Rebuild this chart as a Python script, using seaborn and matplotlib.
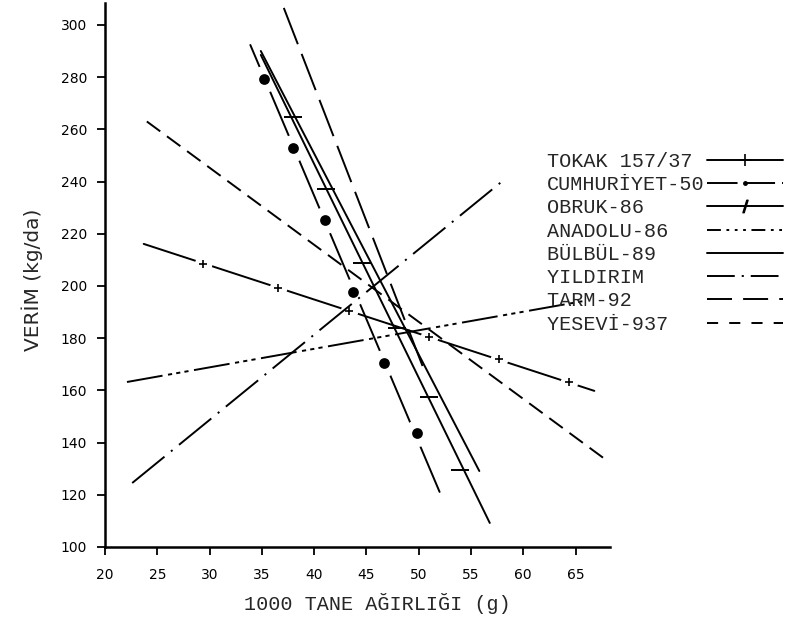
import matplotlib
matplotlib.use('Agg')
import matplotlib.pyplot as plt
from matplotlib.lines import Line2D
import seaborn as sns

# Veriler
cesitler = ['TOKAK 157/37', 'CUMHURİYET-50', 'OBRUK-86', 'ANADOLU-86',
            'BÜLBÜL-89', 'YILDIRIM', 'TARM-92', 'YESEVİ-937']

tokak_x = [23.7, 66.8]
tokak_y = [216.1, 159.8]
tokak_mx = [29.4, 36.5, 43.3, 51.0, 57.7, 64.4]
tokak_my = [208.4, 199.2, 190.5, 180.5, 172.0, 163.2]

cumhuriyet_x = [33.9, 52.0]
cumhuriyet_y = [292.3, 121.1]
cumhuriyet_mx = [35.2, 38.0, 41.0, 43.7, 46.7, 49.8]
cumhuriyet_my = [279.3, 252.9, 225.3, 197.7, 170.5, 143.7]

obruk_x = [34.9, 56.8]
obruk_y = [288.5, 109.2]
obruk_mx = [38.0, 41.1, 44.6, 47.9, 51.0, 54.0]
obruk_my = [264.8, 237.2, 208.8, 183.9, 157.5, 129.5]

anadolu_x = [22.1, 65.9]
anadolu_y = [163.2, 194.3]

bulbul_x = [34.9, 55.8]
bulbul_y = [290.0, 129.1]

yildirim_x = [22.6, 57.9]
yildirim_y = [124.5, 239.8]

tarm_x = [37.1, 50.5]
tarm_y = [306.5, 168.0]

yesevi_x = [24.0, 67.7]
yesevi_y = [263.0, 134.0]

x_ticks = [20, 25, 30, 35, 40, 45, 50, 55, 60, 65]
y_ticks = [100, 120, 140, 160, 180, 200, 220, 240, 260, 280, 300]

sns.set_style('ticks')
plt.rcParams['font.family'] = ['DejaVu Sans']
plt.rcParams['lines.scale_dashes'] = False

fig = plt.figure(figsize=(7.86, 6.17), dpi=100)
ax = fig.add_axes([0.1336, 0.1135, 0.6425, 0.8817])

lw = 1.4
ortak = dict(ax=ax, color='black', linewidth=lw, sort=False, estimator=None, legend=False)

# CUMHURIYET-50: iri noktali cizgi (en altta)
sns.lineplot(x=cumhuriyet_x, y=cumhuriyet_y, zorder=1.0, **ortak)
sns.scatterplot(x=cumhuriyet_mx, y=cumhuriyet_my, ax=ax, color='white', s=380,
                linewidth=0, zorder=1.1, legend=False)
sns.scatterplot(x=cumhuriyet_mx, y=cumhuriyet_my, ax=ax, color='black', s=60,
                linewidth=0, zorder=1.2, legend=False)

# TOKAK 157/37: arti isaretli cizgi
sns.lineplot(x=tokak_x, y=tokak_y, zorder=1.5, **ortak)
sns.scatterplot(x=tokak_mx, y=tokak_my, ax=ax, color='white', s=160,
                linewidth=0, zorder=1.6, legend=False)
sns.scatterplot(x=tokak_mx, y=tokak_my, ax=ax, color='black', marker='+', s=40,
                linewidth=1.2, zorder=1.7, legend=False)

# OBRUK-86
sns.lineplot(x=obruk_x, y=obruk_y, zorder=3, **ortak)
sns.scatterplot(x=obruk_mx, y=obruk_my, ax=ax, color='black', marker='_', s=160,
                linewidth=1.4, zorder=3, legend=False)

sns.lineplot(x=anadolu_x, y=anadolu_y, zorder=3,
             linestyle=(0, (26, 4, 3, 3, 3, 3, 3, 4)), **ortak)
sns.lineplot(x=bulbul_x, y=bulbul_y, zorder=3, **ortak)
sns.lineplot(x=yildirim_x, y=yildirim_y, zorder=3,
             linestyle=(0, (30, 6, 1.5, 6)), **ortak)
sns.lineplot(x=tarm_x, y=tarm_y, zorder=3, linestyle=(0, (28, 7.5)), **ortak)
sns.lineplot(x=yesevi_x, y=yesevi_y, zorder=3, linestyle=(0, (12, 6)), **ortak)

ax.set_xlim(20, 68.3)
ax.set_ylim(100, 308.4)
ax.set_xticks(x_ticks)
ax.set_yticks(y_ticks)
ax.tick_params(axis='both', direction='out', length=6, width=1.3, labelsize=10,
               colors='black')
ax.tick_params(axis='y', pad=7)
ax.tick_params(axis='x', pad=9)
for sp in ['left', 'bottom']:
    ax.spines[sp].set_linewidth(1.8)
    ax.spines[sp].set_color('black')
sns.despine(ax=ax)

ax.set_xlabel('1000 TANE AĞIRLIĞI (g)', fontsize=14.5, family='Liberation Mono')
ax.xaxis.set_label_coords(0.539, -0.103)
ax.xaxis.label.set_va('center')
ax.set_ylabel('VERİM (kg/da)', fontsize=14.5, family='DejaVu Sans')
ax.yaxis.set_label_coords(-0.1446, 0.491)
ax.yaxis.label.set_va('center')

# Lejant (esit genislikli yazi: etiketler bosluklarla ayni uzunluga getirildi)
uzunluk = max(len(c) for c in cesitler)
etiketler = [c.ljust(uzunluk) for c in cesitler]
tutamaclar = [
    Line2D([], [], color='k', lw=lw, marker='+', markersize=8, mew=1.2),
    Line2D([], [], color='k', lw=lw, linestyle=(0, (22, 5)), marker='.', markersize=5),
    Line2D([], [], color='k', lw=lw, marker='$/$', markersize=9),
    Line2D([], [], color='k', lw=lw, linestyle=(0, (10, 4, 2, 4, 2, 4, 2, 4))),
    Line2D([], [], color='k', lw=lw),
    Line2D([], [], color='k', lw=lw, linestyle=(0, (20, 5, 1.5, 5))),
    Line2D([], [], color='k', lw=lw, linestyle=(0, (18, 8))),
    Line2D([], [], color='k', lw=lw, linestyle=(0, (8, 8))),
]
fig.legend(tutamaclar, etiketler, loc='upper left',
           bbox_to_anchor=(547 / 786, 1 - 152 / 617),
           frameon=False, markerfirst=False, borderpad=0, borderaxespad=0,
           handletextpad=0.1, handlelength=3.8, labelspacing=0.21, numpoints=1,
           prop={'family': 'Liberation Mono', 'size': 14.5})

plt.savefig('out.png', dpi=100)
